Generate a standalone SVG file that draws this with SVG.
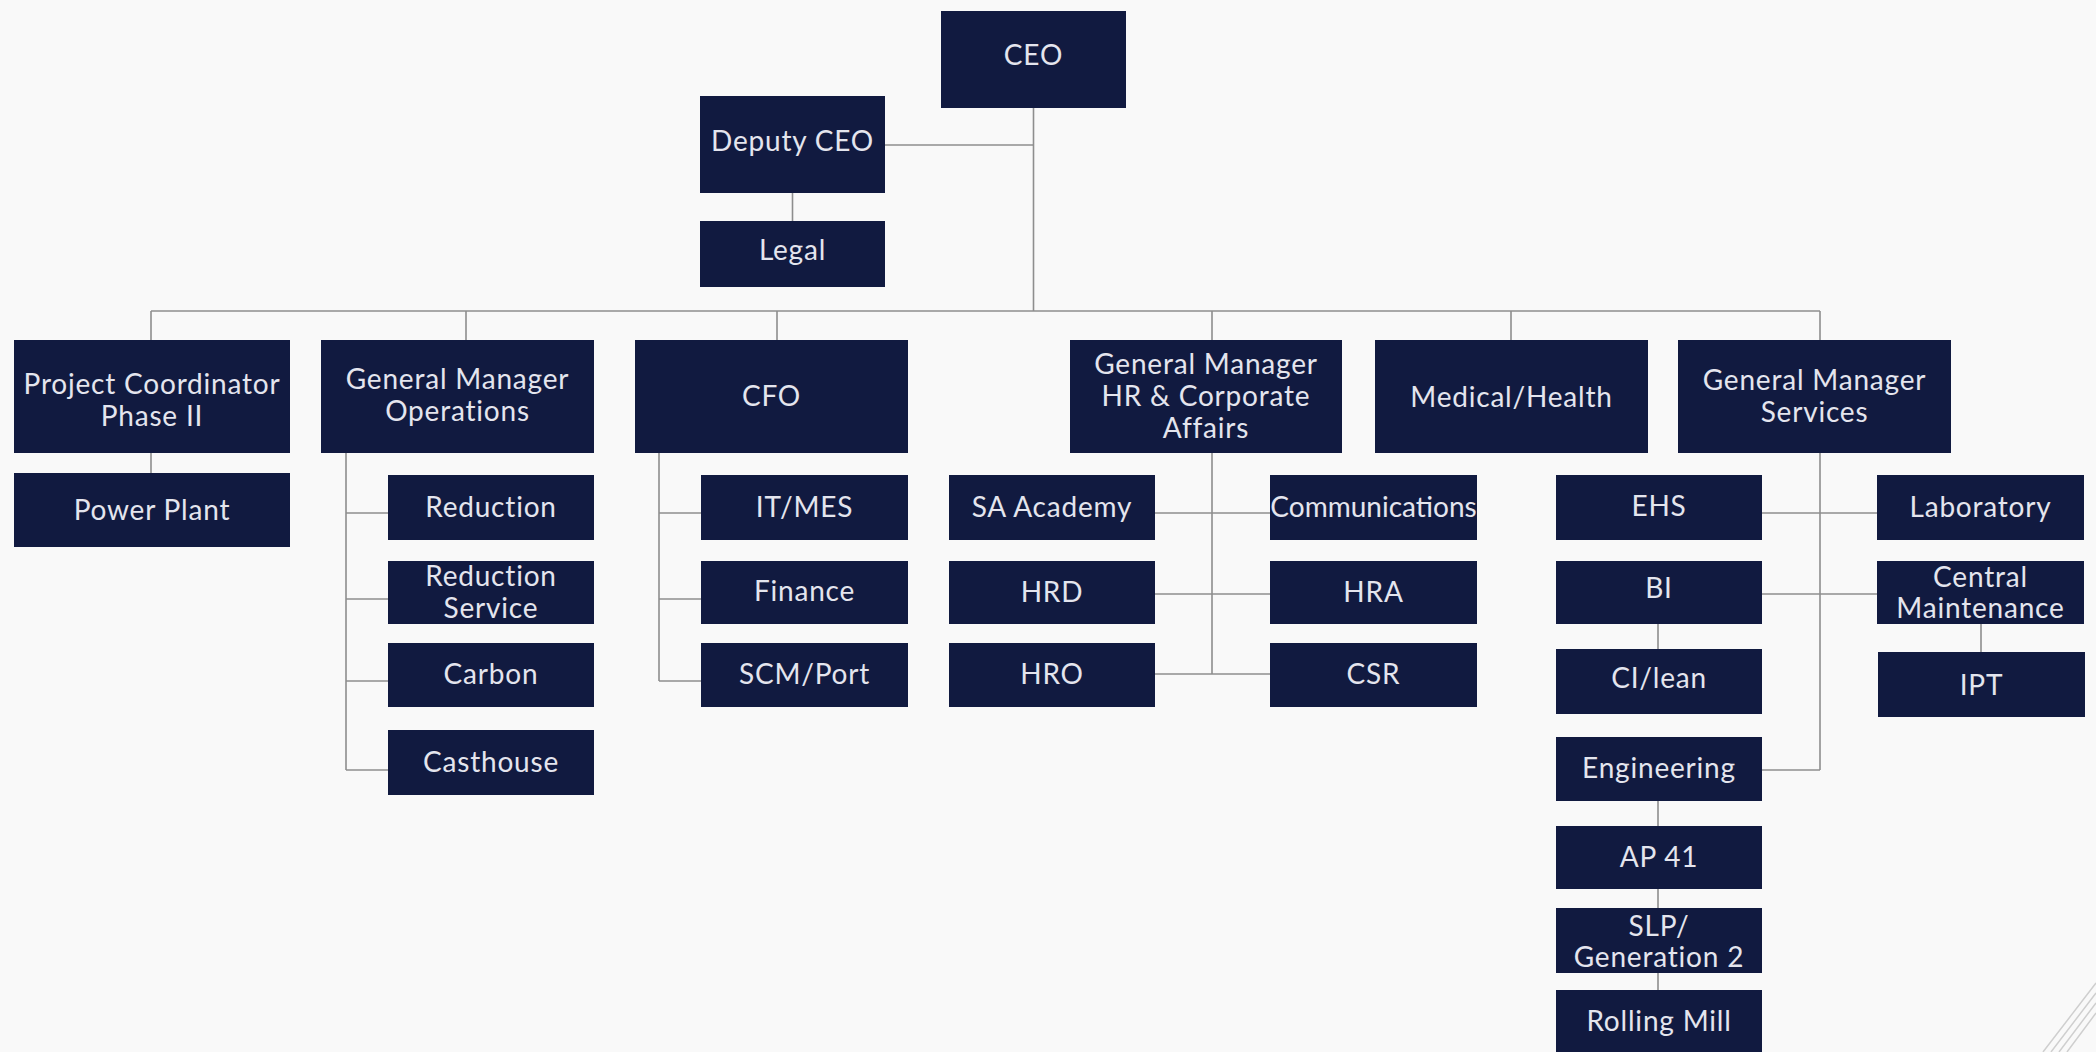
<svg xmlns="http://www.w3.org/2000/svg" width="2096" height="1052" viewBox="0 0 2096 1052">
<style>
.b{fill:#111a40}
.t{fill:#e4e5ee;font-family:Lato,"Liberation Sans",sans-serif;font-size:28px;letter-spacing:0.8px;text-anchor:middle}
.c{fill:none;stroke:#8e8e8e;stroke-width:1.6}
.d{fill:none;stroke:#cfcfcf;stroke-width:1.5}
</style>
<rect width="2096" height="1052" fill="#f9f9f9"/>
<g id="connectors">
<path class="c" d="M1033.5 108V311M885 145H1033.5M792.5 193V221M151 311H1820M151 311V340M466 311V340M777 311V340M1212 311V340M1511 311V340M1820 311V340"/>
<path class="c" d="M151 453V473"/>
<path class="c" d="M346 453V770M346 513H388M346 599H388M346 681H388M346 770H388"/>
<path class="c" d="M659 453V681M659 513H701M659 599H701M659 681H701"/>
<path class="c" d="M1212 453V674M1155 513H1270M1155 594H1270M1155 674H1270"/>
<path class="c" d="M1820 453V770M1762 513H1877M1762 594H1877M1762 770H1820"/>
<path class="c" d="M1658 624V649M1658 801V826M1658 889V908M1658 973V990M1981 624V652"/>
</g>
<g id="ceo"><rect class="b" x="941" y="11" width="185" height="97"/><text class="t" x="1033.5" y="65">CEO</text></g>
<g id="deputy-ceo"><rect class="b" x="700" y="96" width="185" height="97"/><text class="t" x="792.5" y="151">Deputy CEO</text></g>
<g id="legal"><rect class="b" x="700" y="221" width="185" height="66"/><text class="t" x="792.5" y="260">Legal</text></g>
<g id="project-coordinator"><rect class="b" x="14" y="340" width="276" height="113"/><text class="t" x="152" y="394">Project Coordinator</text><text class="t" x="152" y="426">Phase II</text></g>
<g id="gm-operations"><rect class="b" x="321" y="340" width="273" height="113"/><text class="t" x="457.5" y="389">General Manager</text><text class="t" x="457.5" y="421">Operations</text></g>
<g id="cfo"><rect class="b" x="635" y="340" width="273" height="113"/><text class="t" x="771.5" y="406">CFO</text></g>
<g id="gm-hr"><rect class="b" x="1070" y="340" width="272" height="113"/><text class="t" x="1206" y="374">General Manager</text><text class="t" x="1206" y="406">HR &amp; Corporate</text><text class="t" x="1206" y="438">Affairs</text></g>
<g id="medical-health"><rect class="b" x="1375" y="340" width="273" height="113"/><text class="t" x="1511.5" y="407">Medical/Health</text></g>
<g id="gm-services"><rect class="b" x="1678" y="340" width="273" height="113"/><text class="t" x="1814.5" y="390">General Manager</text><text class="t" x="1814.5" y="422">Services</text></g>
<g id="power-plant"><rect class="b" x="14" y="473" width="276" height="74"/><text class="t" x="152" y="520">Power Plant</text></g>
<g id="reduction"><rect class="b" x="388" y="475" width="206" height="65"/><text class="t" x="491" y="517">Reduction</text></g>
<g id="reduction-service"><rect class="b" x="388" y="561" width="206" height="63"/><text class="t" x="491" y="586">Reduction</text><text class="t" x="491" y="618">Service</text></g>
<g id="carbon"><rect class="b" x="388" y="643" width="206" height="64"/><text class="t" x="491" y="684">Carbon</text></g>
<g id="casthouse"><rect class="b" x="388" y="730" width="206" height="65"/><text class="t" x="491" y="772">Casthouse</text></g>
<g id="it-mes"><rect class="b" x="701" y="475" width="207" height="65"/><text class="t" x="804.5" y="517">IT/MES</text></g>
<g id="finance"><rect class="b" x="701" y="561" width="207" height="63"/><text class="t" x="804.5" y="601">Finance</text></g>
<g id="scm-port"><rect class="b" x="701" y="643" width="207" height="64"/><text class="t" x="804.5" y="684">SCM/Port</text></g>
<g id="sa-academy"><rect class="b" x="949" y="475" width="206" height="65"/><text class="t" x="1052" y="517">SA Academy</text></g>
<g id="hrd"><rect class="b" x="949" y="561" width="206" height="63"/><text class="t" x="1052" y="602">HRD</text></g>
<g id="hro"><rect class="b" x="949" y="643" width="206" height="64"/><text class="t" x="1052" y="684">HRO</text></g>
<g id="communications"><rect class="b" x="1270" y="475" width="207" height="65"/><text class="t" x="1373.5" y="517" style="letter-spacing:0">Communications</text></g>
<g id="hra"><rect class="b" x="1270" y="561" width="207" height="63"/><text class="t" x="1373.5" y="602">HRA</text></g>
<g id="csr"><rect class="b" x="1270" y="643" width="207" height="64"/><text class="t" x="1373.5" y="684">CSR</text></g>
<g id="ehs"><rect class="b" x="1556" y="475" width="206" height="65"/><text class="t" x="1659" y="516">EHS</text></g>
<g id="bi"><rect class="b" x="1556" y="561" width="206" height="63"/><text class="t" x="1659" y="598">BI</text></g>
<g id="ci-lean"><rect class="b" x="1556" y="649" width="206" height="65"/><text class="t" x="1659" y="688">CI/lean</text></g>
<g id="engineering"><rect class="b" x="1556" y="737" width="206" height="64"/><text class="t" x="1659" y="778">Engineering</text></g>
<g id="ap41"><rect class="b" x="1556" y="826" width="206" height="63"/><text class="t" x="1659" y="867">AP 41</text></g>
<g id="slp"><rect class="b" x="1556" y="908" width="206" height="65"/><text class="t" x="1659" y="936">SLP/</text><text class="t" x="1659" y="967">Generation 2</text></g>
<g id="rolling-mill"><rect class="b" x="1556" y="990" width="206" height="70"/><text class="t" x="1659" y="1031">Rolling Mill</text></g>
<g id="laboratory"><rect class="b" x="1877" y="475" width="207" height="65"/><text class="t" x="1980.5" y="517">Laboratory</text></g>
<g id="central-maintenance"><rect class="b" x="1877" y="561" width="207" height="63"/><text class="t" x="1980.5" y="587">Central</text><text class="t" x="1980.5" y="618">Maintenance</text></g>
<g id="ipt"><rect class="b" x="1878" y="652" width="207" height="65"/><text class="t" x="1981.5" y="695">IPT</text></g>
<path class="d" d="M2043 1052L2096 983M2051 1052L2096 993M2059 1052L2096 1003M2067 1052L2096 1013"/>
</svg>
